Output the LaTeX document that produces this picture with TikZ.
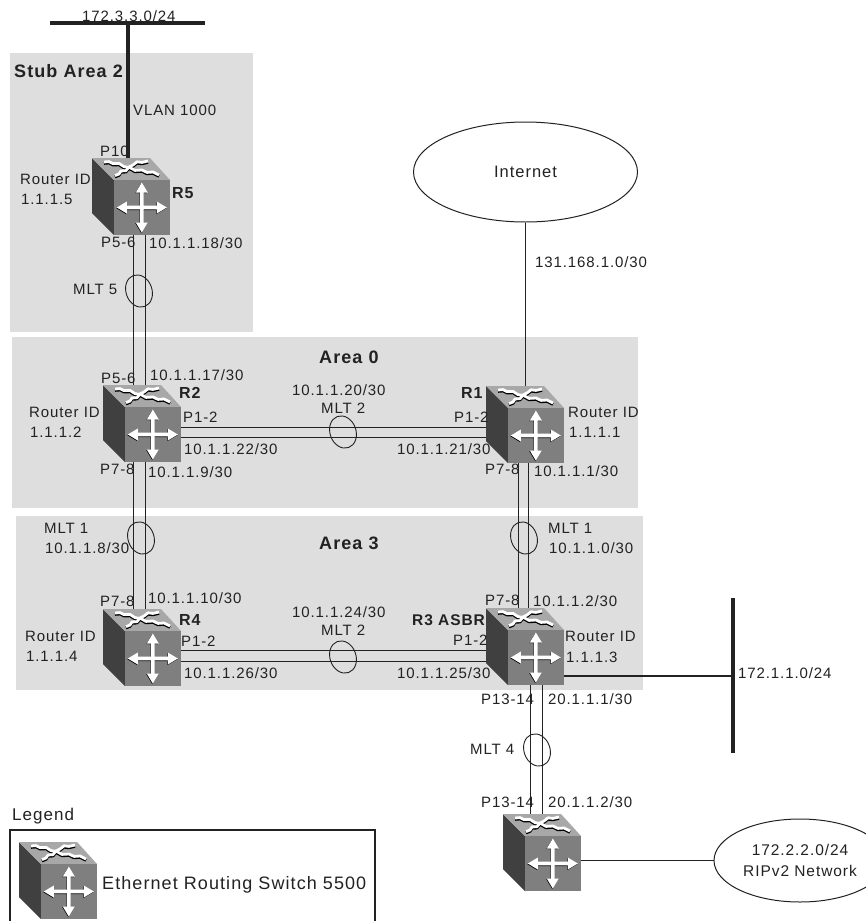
\documentclass[tikz,border=0pt]{standalone}
\usepackage{fontspec}
\setmainfont{Liberation Sans}[LetterSpace=6]
\usetikzlibrary{shapes.geometric}
\definecolor{areagrey}{HTML}{DEDEDE}
\definecolor{ink}{HTML}{222222}
\definecolor{sidegrey}{HTML}{404040}
\definecolor{frontgrey}{HTML}{7F7F7F}
\definecolor{topgrey}{HTML}{A8A8A8}
\newcommand\armpath{(-25,0)--(-15,-6)--(-15,-1.8)--(-1.8,-1.8)--(-1.8,-15)--(-6,-15)--(0,-25)--(6,-15)--(1.8,-15)--(1.8,-1.8)--(15,-1.8)--(15,-6)--(25,0)--(15,6)--(15,1.8)--(1.8,1.8)--(1.8,15)--(6,15)--(0,25)--(-6,15)--(-1.8,15)--(-1.8,1.8)--(-15,1.8)--(-15,6)--cycle}
\newcommand\wigA{(12,4)--(17,3.6)--(21,5.6)--(27,5.4)--(32,8.6)--(38,9.6)--(43,12.4)--(50,12)--(55,14.4)--(61,14)--(67,17)}
\newcommand\wigB{(56,3)--(50,4.4)--(45,3.8)--(41,7)--(37,9)--(34,12.6)--(29,13)--(27,16)--(23,17.6)}
\tikzset{
  x=1pt,y=-1pt,
  swbox/.style={minimum width=78pt,minimum height=77pt,inner sep=0pt,outer sep=0pt},
  lab/.style={anchor=west,inner sep=0pt,text=ink,font=\fontsize{15}{17}\selectfont},
  blab/.style={lab,font=\fontsize{16}{18}\selectfont\bfseries},
  arealab/.style={lab,font=\fontsize{18}{20}\selectfont\bfseries},
  link/.style={draw=ink,line width=1pt},
  heavy/.style={draw=ink,line width=3.4pt},
  mltring/.style={ellipse,draw=ink,line width=.9pt,minimum width=26pt,minimum height=33pt,inner sep=0pt},
  cloud/.style={ellipse,draw=ink,line width=1pt,inner sep=0pt,text=ink,align=center,font=\fontsize{15.5}{21}\selectfont},
  swicon/.pic={
    \fill[sidegrey] (0,0)--(22,22)--(22,77)--(0,55)--cycle;
    \fill[topgrey] (0,0)--(58,0)--(78,22)--(22,22)--cycle;
    \fill[frontgrey] (22,22) rectangle (78,77);
    \draw[black,line width=3pt,line join=round] [shift={(0,1.3)}] \wigA;
    \draw[black,line width=3pt,line join=round] [shift={(0,1.3)}] \wigB;
    \draw[white,line width=2.8pt,line join=round] \wigA;
    \draw[white,line width=2.8pt,line join=round] \wigB;
    \fill[black] [shift={(49.3,50.2)}] \armpath;
    \fill[white] [shift={(49.8,49.5)}] \armpath;
  }
}
\newcommand\lab[4]{\node[lab] (#1) at (#2,#3) {#4};}
\newcommand\blab[4]{\node[blab] (#1) at (#2,#3) {#4};}
\newcommand\alab[4]{\node[arealab] (#1) at (#2,#3) {#4};}
\begin{document}
\begin{tikzpicture}
\useasboundingbox (0,0) rectangle (866,921);
\clip (0,0) rectangle (866,921);
\fill[white] (0,0) rectangle (866,921);
% areas
\fill[areagrey] (10,53) rectangle (253,332);
\fill[areagrey] (12,337) rectangle (638,508);
\fill[areagrey] (16,516) rectangle (643,690);
% switch positions
\node[swbox] (R5) at (131,196.5) {};
\node[swbox] (R2) at (142,423.5) {};
\node[swbox] (R1) at (525,424.5) {};
\node[swbox] (R4) at (142,647.5) {};
\node[swbox] (R3) at (525,646.5) {};
\node[swbox] (R6) at (542,852.5) {};
\node[swbox] (LG) at (58,880.5) {};
% clouds and bus ends
\node[cloud,minimum width=224pt,minimum height=100pt,font=\fontsize{16.5}{21}\selectfont] (inet) at (525.5,172) {Internet};
\node[cloud,minimum width=172pt,minimum height=83pt] (rip) at (800,860.5) {172.2.2.0/24\\RIPv2 Network};
\coordinate (busTL) at (50,23);
\coordinate (busTR) at (205,23);
\coordinate (busTM) at (128,23);
\coordinate (busRT) at (733,598);
\coordinate (busRB) at (733,753);
\coordinate (busRM) at (733,676);
\lab{nTop}{82}{16}{172.3.3.0/24}
% connectors
\draw[heavy] (busTL) -- (busTR);
\draw[heavy] (busTM) -- (busTM |- R5.north);
\draw[heavy] (busRT) -- (busRB);
\draw[line width=2.6pt,draw=ink] ([yshift=-29.5pt]R3.east) -- (busRM);
\draw[link] (inet.south) -- (inet.south |- R1.north);
\draw[link] ([xshift=2.5pt]R5.south) -- ([xshift=-8.5pt]R2.north);
\draw[link] ([xshift=14.5pt]R5.south) -- ([xshift=3.5pt]R2.north);
\draw[link] ([xshift=-8.5pt]R2.south) -- ([xshift=-8.5pt]R4.north);
\draw[link] ([xshift=3.5pt]R2.south) -- ([xshift=3.5pt]R4.north);
\draw[link] ([yshift=-4pt]R2.east) -- ([yshift=-3pt]R1.west);
\draw[link] ([yshift=-14pt]R2.east) -- ([yshift=-13pt]R1.west);
\draw[link] ([xshift=-6.5pt]R1.south) -- ([xshift=-6.5pt]R3.north);
\draw[link] ([xshift=3.5pt]R1.south) -- ([xshift=3.5pt]R3.north);
\draw[link] ([yshift=-3pt]R4.east) -- ([yshift=-4pt]R3.west);
\draw[link] ([yshift=-14pt]R4.east) -- ([yshift=-15pt]R3.west);
\draw[link] ([xshift=5.5pt]R3.south) -- ([xshift=-11.5pt]R6.north);
\draw[link] ([xshift=17.5pt]R3.south) -- ([xshift=0.5pt]R6.north);
\draw[link] ([yshift=-8pt]R6.east) -- (rip.west);
% MLT rings
\node[mltring,rotate=20] (m5) at (139,291) {};
\node[mltring,rotate=20] (m1l) at (141,538) {};
\node[mltring,rotate=20] (m1r) at (524,538) {};
\node[mltring,rotate=20] (m2a) at (343,432) {};
\node[mltring,rotate=20] (m2b) at (343,657) {};
\node[mltring,rotate=20] (m4) at (537,750) {};
% switch icons
\pic at (R5.north west) {swicon};
\pic at (R2.north west) {swicon};
\pic at (R1.north west) {swicon};
\pic at (R4.north west) {swicon};
\pic at (R3.north west) {swicon};
\pic at (R6.north west) {swicon};
\pic at (LG.north west) {swicon};
% legend
\draw[ink,line width=1.1pt] (10,925) -- (10,830) -- (375,830) -- (375,925);
\node[lab,font=\fontsize{17}{19}\selectfont] (nLegend) at (12,816) {Legend};
\node[lab,font=\fontsize{18}{20}\selectfont] (nLegendT) at (102,885) {Ethernet Routing Switch 5500};
% labels
\alab{a2}{14}{71}{Stub Area 2}
\lab{b1}{133}{110}{VLAN 1000}
\lab{b2}{100}{151}{P10}
\lab{b3}{20}{179}{Router ID}
\lab{b4}{21}{199}{1.1.1.5}
\blab{b5}{172}{193}{R5}
\lab{b6}{101}{242}{P5-6}
\lab{b7}{149}{243}{10.1.1.18/30}
\lab{b8}{73}{289}{MLT 5}
\lab{c1}{101}{378}{P5-6}
\lab{c2}{150}{375}{10.1.1.17/30}
\blab{c3}{179}{393}{R2}
\alab{c4}{319}{357}{Area 0}
\lab{c5}{292}{390}{10.1.1.20/30}
\lab{c6}{321}{408}{MLT 2}
\lab{c7}{183}{417}{P1-2}
\lab{c8}{184}{449}{10.1.1.22/30}
\lab{c9}{29}{412}{Router ID}
\lab{c10}{30}{432}{1.1.1.2}
\lab{c11}{100}{469}{P7-8}
\lab{c12}{148}{472}{10.1.1.9/30}
\lab{d1}{44}{528}{MLT 1}
\lab{d2}{45}{548}{10.1.1.8/30}
\alab{d3}{319}{543}{Area 3}
\lab{d4}{100}{601}{P7-8}
\lab{d5}{148}{598}{10.1.1.10/30}
\blab{d6}{179}{620}{R4}
\lab{d7}{25}{636}{Router ID}
\lab{d8}{26}{656}{1.1.1.4}
\lab{d9}{181}{641}{P1-2}
\lab{d10}{184}{673}{10.1.1.26/30}
\lab{d11}{292}{612}{10.1.1.24/30}
\lab{d12}{321}{630}{MLT 2}
\blab{e1}{461}{393}{R1}
\lab{e2}{454}{417}{P1-2}
\lab{e3}{397}{449}{10.1.1.21/30}
\lab{e4}{568}{412}{Router ID}
\lab{e5}{569}{432}{1.1.1.1}
\lab{e6}{485}{469}{P7-8}
\lab{e7}{534}{471}{10.1.1.1/30}
\lab{e8}{548}{528}{MLT 1}
\lab{e9}{549}{548}{10.1.1.0/30}
\lab{f1}{485}{600}{P7-8}
\lab{f2}{533}{601}{10.1.1.2/30}
\node[blab,font=\fontsize{15.5}{18}\selectfont\bfseries] (f3) at (412,620) {R3 ASBR};
\lab{f4}{453}{640}{P1-2}
\lab{f5}{397}{673}{10.1.1.25/30}
\lab{f6}{565}{636}{Router ID}
\lab{f7}{566}{657}{1.1.1.3}
\lab{g1}{481}{699}{P13-14}
\lab{g2}{548}{699}{20.1.1.1/30}
\lab{g3}{470}{749}{MLT 4}
\lab{g4}{481}{802}{P13-14}
\lab{g5}{548}{802}{20.1.1.2/30}
\lab{h1}{738}{673}{172.1.1.0/24}
\lab{h2}{535}{262}{131.168.1.0/30}
\end{tikzpicture}
\end{document}
